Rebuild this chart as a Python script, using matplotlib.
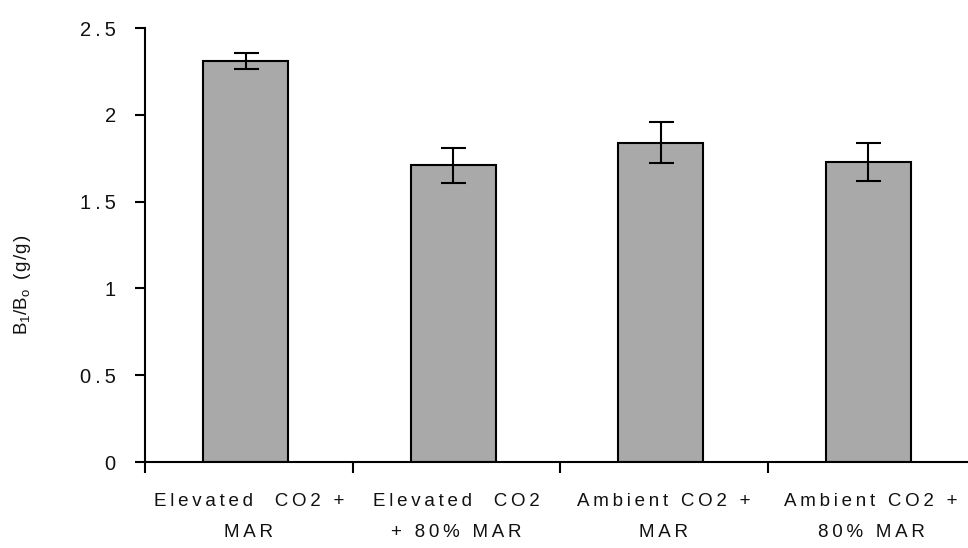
import numpy as np
import matplotlib.pyplot as plt

plt.rcParams['font.family'] = ['Liberation Sans', 'DejaVu Sans']

categories = ['Elevated  CO2 +\nMAR', 'Elevated  CO2\n+ 80% MAR',
              'Ambient CO2 +\nMAR', 'Ambient CO2 +\n80% MAR']
ratio = [2.31, 1.71, 1.84, 1.73]
err = [0.045, 0.10, 0.12, 0.11]
yticks = [0, 0.5, 1, 1.5, 2, 2.5]
ytick_labels = ['0', '0.5', '1', '1.5', '2', '2.5']

GAP = '\u2009'


def spaced(s):
    # the scanned labels are letter-spaced
    return '\n'.join(GAP.join(line) for line in s.split('\n'))


fig = plt.figure(figsize=(9.68, 5.48), dpi=100)
ax = fig.add_axes([145 / 968, 1 - 462 / 548, 830 / 968, 434 / 548])

x = np.arange(len(categories))
ax.bar(x - 0.015, ratio, width=0.41, color='#a9a9a9', edgecolor='black', linewidth=1.5,
       yerr=err, capsize=9, error_kw=dict(elinewidth=1.5, capthick=1.5, ecolor='black'),
       zorder=2)

ax.set_xlim(-0.5, 3.5)
ax.set_ylim(0, 2.5)
ax.set_yticks(yticks)
ax.set_yticklabels([spaced(t) for t in ytick_labels], fontsize=14.5, color='#111111')
ax.tick_params(axis='y', direction='out', length=7, width=1.5, pad=14)

ax.set_xticks(x)
ax.set_xticklabels([spaced(c) for c in categories], fontsize=13.5, linespacing=2.1,
                   color='#111111')
ax.tick_params(axis='x', which='major', length=0, pad=22)
ax.set_xticks([-0.5, 0.5, 1.5, 2.5], minor=True)
ax.tick_params(axis='x', which='minor', direction='out', length=8, width=1.5)

for s in ['top', 'right']:
    ax.spines[s].set_visible(False)
for s in ['left', 'bottom']:
    ax.spines[s].set_linewidth(1.5)

ax.set_ylabel('B$_\\mathregular{1}$/B$_\\mathregular{o}$\u2009 (\u200ag\u200a/\u200ag\u200a)',
              fontsize=13.5, color='#111111')
ax.yaxis.set_label_coords(-0.135, 0.408)

fig.savefig('out.png', dpi=100)
